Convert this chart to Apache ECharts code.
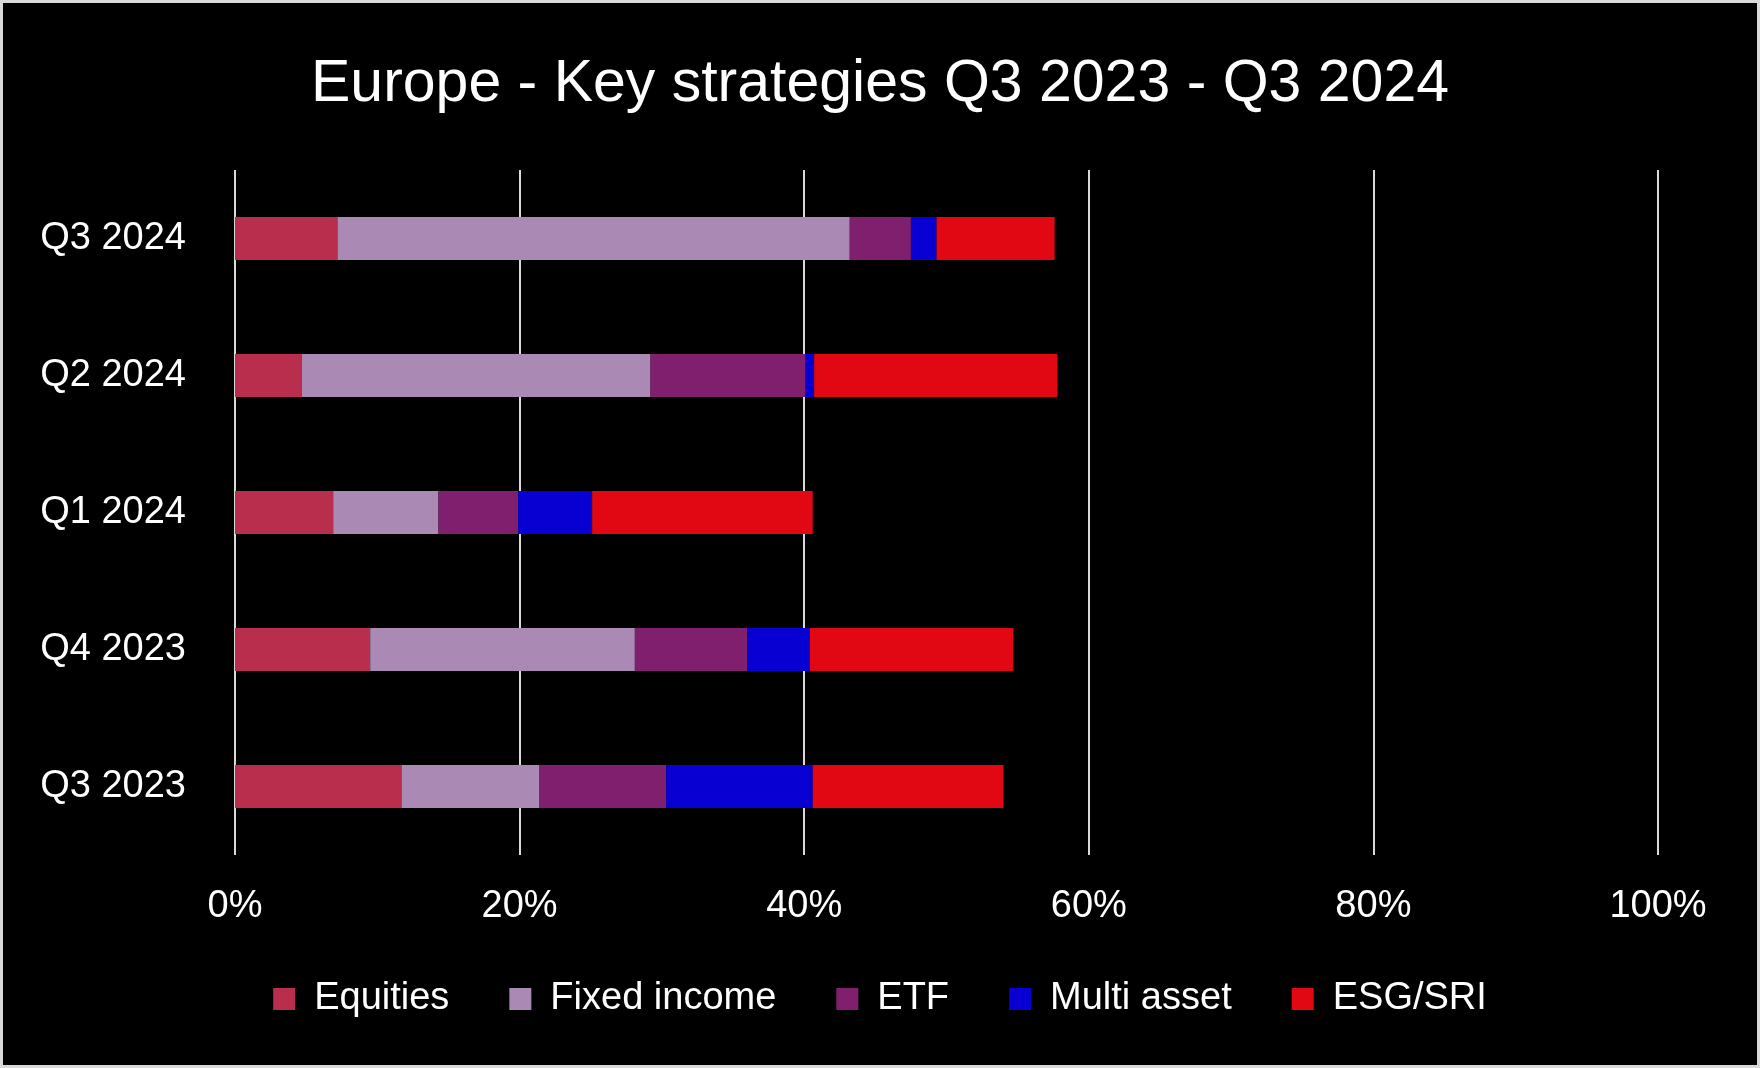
<!DOCTYPE html>
<html>
<head>
<meta charset="utf-8">
<script src="https://cdn.jsdelivr.net/npm/echarts@6/dist/echarts.min.js"></script>
<style>
  html, body { margin: 0; padding: 0; background: #000; }
  #chart { position: absolute; left: 0; top: 0; width: 1760px; height: 1068px; }
  #frame { position: absolute; left: 0; top: 0; width: 1760px; height: 1068px; box-sizing: border-box; border: 3px solid #d9d9d9; pointer-events: none; }
</style>
</head>
<body>
<div id="chart"></div>
<div id="frame"></div>
<script>
const categories = ["Q3 2023", "Q4 2023", "Q1 2024", "Q2 2024", "Q3 2024"];
const equities    = [11.7, 9.5, 6.9, 4.7, 7.2];
const fixedIncome = [9.7, 18.6, 7.4, 24.5, 36.0];
const etf         = [8.9, 7.9, 5.6, 10.9, 4.3];
const multiAsset  = [10.3, 4.4, 5.2, 0.6, 1.8];
const esgSri      = [13.4, 14.3, 15.5, 17.1, 8.3];
const xTicks = [0, 20, 40, 60, 80, 100];

const seriesNames = ["Equities", "Fixed income", "ETF", "Multi asset", "ESG/SRI"];
const seriesData = [equities, fixedIncome, etf, multiAsset, esgSri];
const colors = ["#b92d4d", "#aa8ab4", "#801f6e", "#0800d2", "#e20813"];

const FONT = "Liberation Sans";
const chart = echarts.init(document.getElementById('chart'), null, { renderer: 'canvas' });
chart.setOption({
  backgroundColor: '#000000',
  animation: false,
  color: colors,
  title: {
    text: 'Europe - Key strategies Q3 2023 - Q3 2024',
    left: 'center',
    top: 50,
    textStyle: { color: '#ffffff', fontFamily: FONT, fontSize: 59, fontWeight: 'normal', lineHeight: 60 }
  },
  legend: {
    data: seriesNames,
    bottom: 45,
    left: 'center',
    icon: 'rect',
    itemWidth: 22,
    itemHeight: 22,
    itemGap: 60,
    textStyle: { color: '#ffffff', fontFamily: FONT, fontSize: 38, padding: [0, 0, 0, 14] }
  },
  grid: { left: 235, right: 102, top: 170, bottom: 213, containLabel: false },
  xAxis: {
    type: 'value',
    min: 0, max: 100, interval: 20,
    axisLine: { show: false },
    axisTick: { show: false },
    splitLine: { show: true, lineStyle: { color: '#d9d9d9', width: 2 } },
    axisLabel: {
      color: '#ffffff', fontFamily: FONT, fontSize: 38, margin: 33,
      formatter: function (v) { return xTicks.indexOf(v) >= 0 ? v + '%' : ''; }
    }
  },
  yAxis: {
    type: 'category',
    data: categories,
    axisLine: { show: false },
    axisTick: { show: false },
    axisLabel: { color: '#ffffff', fontFamily: FONT, fontSize: 38, margin: 49 }
  },
  series: seriesNames.map(function (name, i) {
    return {
      name: name,
      type: 'bar',
      stack: 'total',
      barWidth: 43,
      data: seriesData[i],
      itemStyle: { color: colors[i] }
    };
  })
});
</script>
</body>
</html>
